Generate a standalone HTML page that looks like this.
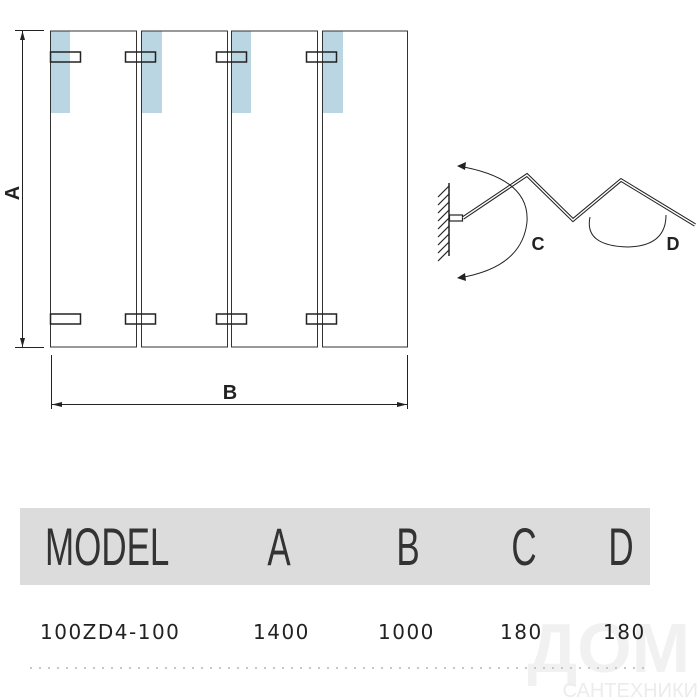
<!DOCTYPE html>
<html><head><meta charset="utf-8"><style>
html,body{margin:0;padding:0;background:#fff;}
body{width:700px;height:700px;overflow:hidden;position:relative;font-family:"Liberation Sans",sans-serif;}
</style></head><body>
<svg width="700" height="700" viewBox="0 0 700 700" style="position:absolute;left:0;top:0">
<rect x="20" y="508" width="630" height="77" fill="#dcdcdc"/>
<g fill="#b9d6e2">
<rect x="51" y="31" width="19" height="82"/><rect x="142" y="31" width="20" height="82"/>
<rect x="232" y="31" width="19" height="82"/><rect x="323" y="31" width="20" height="82"/>
</g>
<g fill="none" stroke="#333" stroke-width="1">
<rect x="50.5" y="31" width="86" height="316"/><rect x="141.5" y="31" width="86" height="316"/>
<rect x="231.5" y="31" width="86" height="316"/><rect x="322.5" y="31" width="85" height="316"/>
</g>
<g fill="none" stroke="#222" stroke-width="1.5">
<rect x="50.5" y="52" width="30" height="10"/><rect x="125.5" y="52" width="30" height="10"/>
<rect x="216.5" y="52" width="30" height="10"/><rect x="306.5" y="52" width="30" height="10"/>
<rect x="50.5" y="314" width="30" height="10"/><rect x="125.5" y="314" width="30" height="10"/>
<rect x="216.5" y="314" width="30" height="10"/><rect x="306.5" y="314" width="30" height="10"/>
</g>
<g stroke="#222" stroke-width="1" fill="none">
<line x1="15" y1="30.5" x2="44" y2="30.5"/><line x1="15" y1="347.5" x2="44" y2="347.5"/>
<line x1="22.5" y1="31" x2="22.5" y2="347"/>
<line x1="51.5" y1="355" x2="51.5" y2="409"/><line x1="407.5" y1="355" x2="407.5" y2="409"/>
<line x1="52" y1="404.5" x2="407" y2="404.5"/>
</g>
<g fill="#222">
<polygon points="22.5,31 20,40 25,40"/><polygon points="22.5,347 20,338 25,338"/>
<polygon points="52,404.5 62,402 62,407"/><polygon points="407,404.5 397,402 397,407"/>
</g>
<text x="0" y="0" transform="translate(19,193) rotate(-90)" font-size="20" font-weight="bold" text-anchor="middle" fill="#222">A</text>
<text x="230" y="399" font-size="20" font-weight="bold" text-anchor="middle" fill="#222">B</text>
<g stroke="#222" fill="none">
<line x1="449" y1="183" x2="449" y2="256" stroke-width="1.5"/>
<path d="M449,186 l-11,11 M449,194 l-11,11 M449,202 l-11,11 M449,210 l-11,11 M449,218 l-11,11 M449,226 l-11,11 M449,234 l-11,11 M449,242 l-11,11 M449,250 l-11,11" stroke-width="1.2"/>
<rect x="449.5" y="215" width="13" height="6" stroke-width="1.2" fill="#fff"/>
<polyline points="463,218 527,175 573,220 621,180 695,225" stroke-width="3.5" stroke="#222"/>
<polyline points="463,218 527,175 573,220 621,180 695,225" stroke-width="1.4" stroke="#fff"/>
<path d="M458,166 Q530,178 527,222 Q522,268 458,278" stroke-width="1"/>
<path d="M590,217 Q584,246 628,247 Q666,246 666,215" stroke-width="1"/>
</g>
<g fill="#222">
<polygon points="457,166 466,162 465,170"/><polygon points="457,278 465,273 466,281"/>
</g>
<text x="538" y="250" font-size="18" font-weight="bold" text-anchor="middle" fill="#222">C</text>
<text x="673" y="250" font-size="18" font-weight="bold" text-anchor="middle" fill="#222">D</text>
<text x="690" y="672" font-size="70" font-weight="bold" text-anchor="end" fill="#f1f1f1">ДОМ</text>
<text x="698" y="697" font-size="20" text-anchor="end" fill="#ececec">САНТЕХНИКИ</text>
<g fill="#333" font-size="53">
<text transform="translate(45,565) scale(0.66,1)">MODEL</text>
<text transform="translate(279,565) scale(0.66,1)" text-anchor="middle">A</text>
<text transform="translate(408,565) scale(0.66,1)" text-anchor="middle">B</text>
<text transform="translate(524,565) scale(0.66,1)" text-anchor="middle">C</text>
<text transform="translate(621,565) scale(0.66,1)" text-anchor="middle">D</text>
</g>
<g fill="#222" font-size="20" font-family="'DejaVu Sans',sans-serif" letter-spacing="1.5">
<text x="40" y="639">100ZD4-100</text>
<text x="253" y="639">1400</text>
<text x="378" y="639">1000</text>
<text x="500" y="639">180</text>
<text x="603" y="639">180</text>
</g>
<line x1="30" y1="668" x2="650" y2="668" stroke="#c8c8c8" stroke-width="2" stroke-dasharray="2,7"/>
</svg>
</body></html>
